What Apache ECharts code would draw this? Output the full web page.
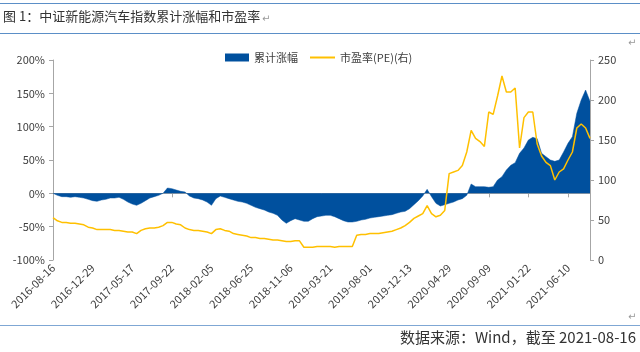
<!DOCTYPE html>
<html>
<head>
<meta charset="utf-8">
<script src="https://cdn.jsdelivr.net/npm/echarts@6/dist/echarts.min.js"></script>
<style>
html, body { margin: 0; padding: 0; background: #fff; }
#main { width: 640px; height: 352px; }
</style>
</head>
<body>
<div id="main"></div>
<script>
// 中证新能源汽车指数 累计涨幅 + 市盈率, 每10个交易日取一个点
var tickLabels = ['2016-08-16', '2016-12-29', '2017-05-17', '2017-09-22', '2018-02-05', '2018-06-25', '2018-11-06',
  '2019-03-21', '2019-08-01', '2019-12-13', '2020-04-29', '2020-09-09', '2021-01-22', '2021-06-10']

// 累计涨幅 (%)
var gain = [
  0, -3, -5, -5, -6, -5, -6, -7, -9, -11,
  -12, -10, -9, -7, -7, -6, -9, -13, -16, -18,
  -15, -11, -7, -5, -3, 0, 8, 7, 5, 3,
  2, -4, -7, -8, -10, -13, -18, -8, -4, -6,
  -8, -10, -12, -13, -15, -18, -21, -23, -25, -28,
  -30, -33, -40, -45, -41, -38, -40, -42, -42, -38,
  -35, -34, -33, -33, -35, -38, -41, -43, -43, -42,
  -40, -39, -37, -36, -35, -34, -33, -32, -30, -28,
  -27, -23, -17, -11, -4, 6, -5, -15, -19, -17,
  -15, -13, -10, -8, -3, 14, 10, 10, 10, 9,
  10, 20, 25, 35, 42, 46, 60, 68, 80, 84,
  82, 60, 55, 50, 48, 50, 62, 75, 85, 120,
  140, 155, 138
]

// 市盈率 PE (右轴)
var pe = [
  53, 49, 47, 47, 46, 46, 45, 44, 41, 40,
  38, 38, 38, 38, 37, 37, 36, 35, 35, 33,
  37, 39, 40, 40, 41, 43, 47, 47, 45, 44,
  40, 38, 37, 37, 36, 35, 33, 38, 39, 37,
  36, 33, 32, 31, 30, 28, 28, 27, 27, 26,
  25, 25, 24, 23, 23, 24, 24, 16, 16, 16,
  17, 17, 17, 17, 16, 17, 17, 17, 17, 31,
  32, 32, 33, 33, 33, 34, 35, 36, 38, 40,
  43, 47, 52, 55, 58, 68, 58, 54, 56, 62,
  108, 110, 112, 118, 135, 162, 152, 148, 142, 185,
  182, 205, 230, 210, 210, 215, 140, 178, 185, 185,
  145, 130, 122, 118, 100, 110, 114, 125, 135, 165,
  170, 165, 152
]

var cats = gain.map(function (v, i) { return i })

var myChart = echarts.init(document.getElementById('main'))
var font = 'Noto Sans CJK SC'
var txtColor = '#404040'
var axisColor = '#a6a6a6'
var markFont = '10px "DejaVu Sans"'

var option = {
  animation: false,
  textStyle: { fontFamily: font },
  grid: { left: 53, right: 50, top: 60, bottom: 92 },
  legend: [
    {
      left: 220, top: 47,
      itemWidth: 24, itemHeight: 8, itemGap: 10,
      textStyle: { fontSize: 11, color: txtColor, fontFamily: font },
      data: [{ name: '累计涨幅', icon: 'rect' }]
    },
    {
      left: 305, top: 47,
      itemWidth: 25, itemHeight: 2,
      textStyle: { fontSize: 11, color: txtColor, fontFamily: font },
      data: [{ name: '市盈率(PE)(右)', icon: 'rect' }]
    }
  ],
  xAxis: [
    {
      type: 'category',
      data: cats,
      boundaryGap: false,
      position: 'bottom',
      axisLine: { show: false, onZero: false },
      axisTick: { show: false },
      axisLabel: {
        interval: 8,
        rotate: 45,
        margin: 6,
        fontSize: 11,
        color: txtColor,
        formatter: function (v, idx) { return tickLabels[idx / 9] || '' }
      }
    },
    {
      // 0%处的横轴线
      type: 'category',
      data: cats,
      boundaryGap: false,
      position: 'bottom',
      axisLine: { show: true, onZero: true, lineStyle: { color: axisColor, width: 1 } },
      axisTick: { show: true, interval: 8, length: 4, lineStyle: { color: axisColor } },
      axisLabel: { show: false }
    }
  ],
  yAxis: [
    {
      type: 'value',
      min: -100, max: 200, interval: 50,
      axisLine: { show: true, lineStyle: { color: axisColor } },
      axisTick: { show: true, length: 4, lineStyle: { color: axisColor } },
      splitLine: { show: false },
      axisLabel: { formatter: '{value}%', fontSize: 11, color: txtColor, margin: 8 }
    },
    {
      type: 'value',
      min: 0, max: 250, interval: 50,
      axisLine: { show: true, lineStyle: { color: axisColor } },
      axisTick: { show: true, length: 4, lineStyle: { color: axisColor } },
      splitLine: { show: false },
      axisLabel: { fontSize: 11, color: txtColor, margin: 8 }
    }
  ],
  series: [
    {
      name: '累计涨幅',
      type: 'line',
      data: gain,
      xAxisIndex: 0,
      yAxisIndex: 0,
      showSymbol: false,
      color: '#00509e',
      lineStyle: { width: 0.5, color: '#00509e' },
      areaStyle: { color: '#00509e', opacity: 1 },
      z: 1
    },
    {
      name: '市盈率(PE)(右)',
      type: 'line',
      data: pe,
      xAxisIndex: 0,
      yAxisIndex: 1,
      showSymbol: false,
      color: '#ffc000',
      lineStyle: { width: 1.5, color: '#ffc000' },
      z: 3
    }
  ],
  graphic: [
    { type: 'rect', shape: { x: 0, y: 3, width: 640, height: 1 }, style: { fill: '#5b8fc7' } },
    { type: 'text', left: 3, top: 10, style: { text: '图 1：中证新能源汽车指数累计涨幅和市盈率', font: '13px "Noto Sans CJK SC"', fill: '#333' } },
    { type: 'text', left: 262, top: 14, style: { text: '↵', font: markFont, fill: '#999' } },
    { type: 'rect', shape: { x: 0, y: 33, width: 640, height: 1 }, style: { fill: '#5b8fc7' } },
    { type: 'text', left: 628, top: 38, style: { text: '↵', font: markFont, fill: '#999' } },
    { type: 'text', left: 628, top: 312, style: { text: '↵', font: markFont, fill: '#999' } },
    { type: 'rect', shape: { x: 0, y: 325, width: 640, height: 1 }, style: { fill: '#7fa7d4' } },
    { type: 'text', right: 4, top: 330, style: { text: '数据来源：Wind，截至 2021-08-16', font: '15px "Noto Sans CJK SC"', fill: '#333' } }
  ]
}
myChart.setOption(option)
</script>
</body>
</html>
